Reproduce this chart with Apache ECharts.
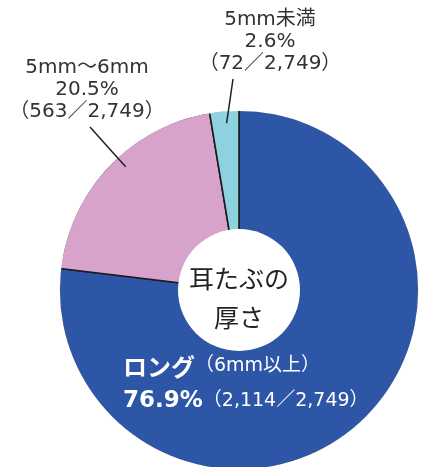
<!DOCTYPE html>
<html><head><meta charset="utf-8">
<script src="https://cdn.jsdelivr.net/npm/echarts@6/dist/echarts.min.js"></script>
<style>html,body{margin:0;padding:0;background:#fff}#c{width:427px;height:467px}</style>
</head><body><div id="c"></div>
<script>
const categories = ['ロング', '5mm～6mm', '5mm未満'];
const subLabels = ['（6mm以上）', '', ''];
const counts = [2114, 563, 72];
const total = 2749;
const percents = ['76.9%', '20.5%', '2.6%'];
const colors = ['#2D56A7', '#D7A3CA', '#8DD3DF'];
const centerTitle = '耳たぶの\n厚さ';

const fmt = n => n.toLocaleString('en-US');
const CJK = '"Noto Sans CJK JP", sans-serif';
const LAT = '"DejaVu Sans", "Noto Sans CJK JP", sans-serif';
const cx = 239, cy = 290, R = 180;
const START = 90;

// label placement (layout only)
const labelPos = [
  { x: 123, y: 384, align: 'left' },
  { x: 87, y: 90, align: 'center', lineDx: 3 },
  { x: 270, y: 42, align: 'center', lineDx: -37 }
];

// angle inside each slice (computed from the data) where the leader line ends
const sum = counts.reduce((a, b) => a + b, 0);
const lineAngles = [];
let acc = 0;
counts.forEach(v => { lineAngles.push(START - (acc + v * 0.55) / sum * 360); acc += v; });

const baseData = categories.map((c, i) => ({ name: c, value: counts[i], itemStyle: { color: colors[i] } }));

const labelData = categories.map((c, i) => {
  const item = { name: c, value: counts[i] };
  if (i === 0) {
    item.label = {
      formatter: () => '{a|' + c + '}{b|' + subLabels[i] + '}\n{c|' + percents[i] + '}{b|（' + fmt(counts[i]) + '／' + fmt(total) + '）}',
      align: 'left',
      rich: {
        a: { fontSize: 24, fontWeight: 'bold', color: '#fff', fontFamily: CJK, lineHeight: 35 },
        b: { fontSize: 19, color: '#fff', fontFamily: LAT, lineHeight: 35 },
        c: { fontSize: 23, fontWeight: 'bold', color: '#fff', fontFamily: LAT, lineHeight: 35 }
      }
    };
    item.labelLine = { show: false };
  } else {
    item.label = {
      formatter: () => c + '\n' + percents[i] + '\n（' + counts[i] + '／' + fmt(total) + '）'
    };
  }
  return item;
});

const chart = echarts.init(document.getElementById('c'), null, { renderer: 'canvas' });
chart.setOption({
  animation: false,
  backgroundColor: '#fff',
  series: [
    {
      type: 'pie',
      center: [cx, cy],
      radius: [0, R],
      startAngle: START,
      clockwise: true,
      data: baseData,
      itemStyle: { borderColor: '#1c1c1c', borderWidth: 1.6 },
      label: { show: false },
      labelLine: { show: false },
      silent: true,
      z: 2
    },
    {
      type: 'pie',
      center: [cx, cy],
      radius: [R - 0.9, R + 6],
      silent: true,
      z: 3,
      label: { show: false },
      labelLine: { show: false },
      data: [{ value: 1, itemStyle: { color: '#fff' } }]
    },
    {
      type: 'pie',
      center: [cx, cy],
      radius: [0, 61],
      silent: true,
      z: 3,
      data: [{ value: 1, name: centerTitle, itemStyle: { color: '#fff' } }],
      label: {
        show: true,
        position: 'center',
        formatter: '{b}',
        color: '#222',
        fontSize: 25,
        lineHeight: 39,
        fontFamily: CJK,
        offset: [0, 8]
      },
      labelLine: { show: false }
    },
    {
      type: 'pie',
      center: [cx, cy],
      radius: [0, R],
      startAngle: START,
      clockwise: true,
      silent: true,
      z: 5,
      data: labelData,
      itemStyle: { color: 'rgba(0,0,0,0)', borderWidth: 0 },
      label: {
        show: true,
        position: 'outside',
        overflow: 'none',
        color: '#333',
        fontSize: 20,
        lineHeight: 22,
        fontFamily: LAT,
        align: 'center'
      },
      labelLine: { show: true, length: 10, length2: 10, lineStyle: { color: '#222', width: 1.5 } },
      labelLayout: function (p) {
        const i = p.dataIndex;
        const L = labelPos[i];
        const out = { x: L.x, y: L.y, align: L.align, verticalAlign: 'middle' };
        if (i > 0) {
          const a = lineAngles[i] * Math.PI / 180;
          const r = R * 0.93;
          const end = [cx + r * Math.cos(a), cy - r * Math.sin(a)];
          const h = p.labelRect.height;
          const start = [L.x + L.lineDx, L.y + h / 2 + 4];
          out.labelLinePoints = [start, [(start[0] + end[0]) / 2, (start[1] + end[1]) / 2], end];
        }
        return out;
      }
    }
  ]
});
</script>
</body></html>
